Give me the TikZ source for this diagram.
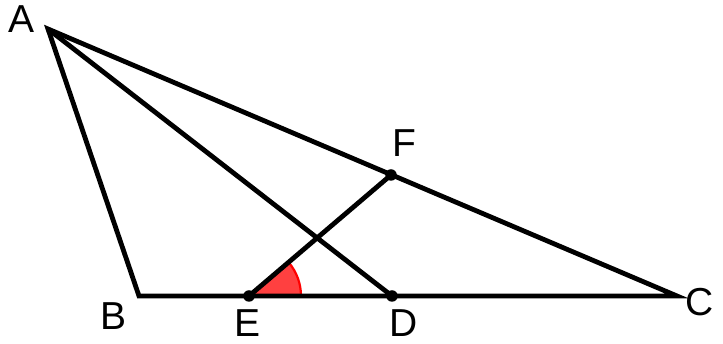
\documentclass[tikz,border=0pt]{standalone}
\usepackage{fontspec}
\setmainfont{Liberation Sans}
\definecolor{anglered}{HTML}{FF4040}
\tikzset{
  edge/.style={line width=4.8pt,draw=black},
  dot/.style={circle,fill=black,inner sep=0pt,minimum size=11.5pt},
  lbl/.style={font=\fontsize{39}{39}\selectfont,inner sep=0pt},
  anglemark/.style={fill=anglered,draw=red,line width=2.2pt}
}
\begin{document}
\begin{tikzpicture}[x=1pt,y=1pt]
  \useasboundingbox (0,0) rectangle (723,344);
  % points
  \coordinate (A) at (48,315);
  \coordinate (B) at (139,48);
  \coordinate (C) at (677,48);
  \coordinate (D) at (392,48);
  \coordinate (E) at (249,48);
  \coordinate (F) at (391,169);
  % angle at E
  \filldraw[anglemark] (E) -- ++(0:52) arc[start angle=0,end angle=40.4,radius=52] -- cycle;
  % segments
  \draw[edge] (A) -- (B) -- (C) -- cycle;
  \draw[edge] (A) -- (D);
  \draw[edge] (E) -- (F);
  \node[dot] (d) at (D) {};
  \node[dot] (e) at (E) {};
  \node[dot] (f) at (F) {};
  % labels
  \node[lbl] (la) at (22,325) {A};
  \node[lbl] (lb) at (114,28) {B};
  \node[lbl] (lc) at (700,42) {C};
  \node[lbl] (ld) at (404,21) {D};
  \node[lbl] (le) at (247.5,21) {E};
  \node[lbl] (lf) at (404,201) {F};
\end{tikzpicture}
\end{document}
